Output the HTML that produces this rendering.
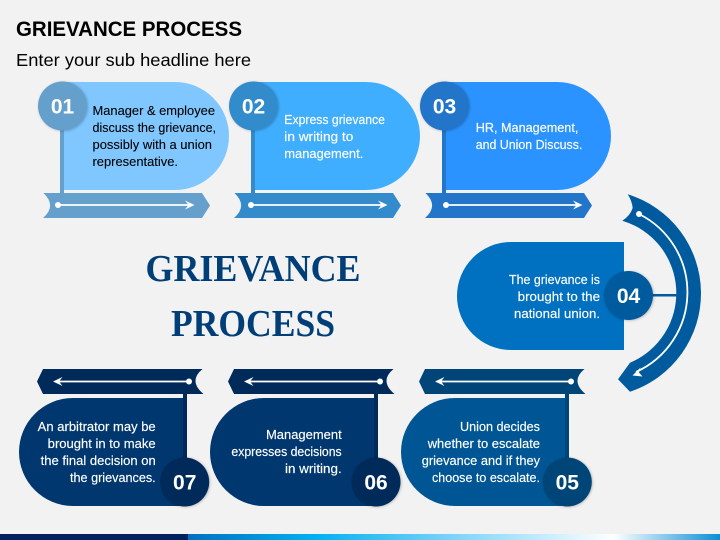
<!DOCTYPE html>
<html>
<head>
<meta charset="utf-8">
<style>
html,body{margin:0;padding:0;background:#f2f2f2}
svg{display:block}
text{font-family:"Liberation Sans",sans-serif}
.t{font-size:13px}
.w{fill:#fff;stroke:#fff;stroke-width:.15}
.k{fill:#000;stroke:#000;stroke-width:.1}
.e{text-anchor:end}
.n{font-size:21px;font-weight:bold;fill:#fff;text-anchor:middle}
.l{fill:none;stroke:#fff;stroke-width:1.8}
</style>
</head>
<body>
<svg width="720" height="540" viewBox="0 0 720 540" xmlns="http://www.w3.org/2000/svg">
<defs>
<linearGradient id="bar" x1="0" x2="1" y1="0" y2="0">
<stop offset="0" stop-color="#0070c0"/>
<stop offset="0.235" stop-color="#00b0f0"/>
<stop offset="0.5" stop-color="#7dd3fa"/>
<stop offset="0.8" stop-color="#ffffff"/>
<stop offset="1" stop-color="#0a8ed6"/>
</linearGradient>
<filter id="s" x="-30%" y="-30%" width="160%" height="160%">
<feDropShadow dx="0.8" dy="0.5" stdDeviation="1.2" flood-color="#000" flood-opacity="0.25"/>
</filter>
</defs>
<rect width="720" height="540" fill="#f2f2f2"/>
<rect x="0" y="534" width="188" height="6" fill="#002060"/>
<rect x="188" y="534" width="532" height="6" fill="url(#bar)"/>

<text x="16" y="36" font-size="21.5" font-weight="bold" fill="#000" textLength="226" lengthAdjust="spacingAndGlyphs">GRIEVANCE PROCESS</text>
<text x="16" y="66" font-size="17.5" fill="#000" textLength="235" lengthAdjust="spacingAndGlyphs">Enter your sub headline here</text>

<text x="145.5" y="281" style="font-family:'Liberation Serif',serif" font-size="38" font-weight="bold" fill="#003e78" textLength="215" lengthAdjust="spacingAndGlyphs">GRIEVANCE</text>
<text x="171" y="336" style="font-family:'Liberation Serif',serif" font-size="38" font-weight="bold" fill="#003e78" textLength="164" lengthAdjust="spacingAndGlyphs">PROCESS</text>

<!-- 01 -->
<path d="M62 82H175A54 54 0 0 1 175 190H62Z" fill="#80c6ff"/>
<rect x="60" y="120" width="4" height="75" fill="#659fcb"/>
<path d="M43.500 193H202L210 205.500L202 218H43Q57 206 43.500 193Z" fill="#659fcb"/>
<circle cx="62.500" cy="106" r="24.500" fill="#659fcb" filter="url(#s)"/>
<text x="62.500" y="113.500" class="n">01</text>
<path d="M58 205H190" class="l"/><path d="M194.500 205L185 200.500L188.500 205L185 209.500Z" fill="#fff"/>
<circle cx="58" cy="205" r="3" fill="#fff"/>
<text x="92.500" y="115" class="t k" textLength="122.500" lengthAdjust="spacingAndGlyphs">Manager &amp; employee</text>
<text x="92.500" y="132" class="t k" textLength="123.500" lengthAdjust="spacingAndGlyphs">discuss the grievance,</text>
<text x="92.500" y="149" class="t k" textLength="119.500" lengthAdjust="spacingAndGlyphs">possibly with a union</text>
<text x="92.500" y="166" class="t k" textLength="85.500" lengthAdjust="spacingAndGlyphs">representative.</text>

<!-- 02 -->
<path d="M253 82H366A54 54 0 0 1 366 190H253Z" fill="#40aeff"/>
<rect x="251" y="120" width="4" height="75" fill="#338bcb"/>
<path d="M234.500 193H393L401 205.500L393 218H234Q248 206 234.500 193Z" fill="#338bcb"/>
<circle cx="253.500" cy="106" r="24.500" fill="#338bcb" filter="url(#s)"/>
<text x="253.500" y="113.500" class="n">02</text>
<path d="M251 205H383" class="l"/><path d="M387.500 205L378 200.500L381.500 205L378 209.500Z" fill="#fff"/>
<circle cx="251" cy="205" r="3" fill="#fff"/>
<text x="284.300" y="124" class="t w" textLength="100.700" lengthAdjust="spacingAndGlyphs">Express grievance</text>
<text x="284.300" y="141" class="t w" textLength="69" lengthAdjust="spacingAndGlyphs">in writing to</text>
<text x="284.300" y="158" class="t w" textLength="79" lengthAdjust="spacingAndGlyphs">management.</text>

<!-- 03 -->
<path d="M444 82H557A54 54 0 0 1 557 190H444Z" fill="#2b93ff"/>
<rect x="442" y="120" width="4" height="75" fill="#2275c8"/>
<path d="M425.500 193H584L592 205.500L584 218H425Q439 206 425.500 193Z" fill="#2275c8"/>
<circle cx="444.500" cy="106" r="24.500" fill="#2275c8" filter="url(#s)"/>
<text x="444.500" y="113.500" class="n">03</text>
<path d="M446 205H578" class="l"/><path d="M582.500 205L573 200.500L576.500 205L573 209.500Z" fill="#fff"/>
<circle cx="446" cy="205" r="3" fill="#fff"/>
<text x="475.700" y="132" class="t w" textLength="102.700" lengthAdjust="spacingAndGlyphs">HR, Management,</text>
<text x="475.700" y="149" class="t w" textLength="106.700" lengthAdjust="spacingAndGlyphs">and Union Discuss.</text>

<!-- 04 -->
<path d="M624 242H511A54 54 0 0 0 511 350H624Z" fill="#0070c0"/>
<rect x="650" y="294" width="28" height="2.500" fill="#005a9e"/>
<path d="M627.700 194.300A103.600 103.600 0 0 1 630 391.700L618 379.300L630 362.700A75.500 75.500 0 0 0 622.300 220.700Q630 216 632.700 208Q632 201 627.700 194.300Z" fill="#005a9e"/>
<path d="M639 214A87.500 87.500 0 0 1 636 372" class="l"/><path d="M632.500 375.500L640.500 367.500L639 372.500L642.500 376.500Z" fill="#fff"/>
<circle cx="639" cy="214" r="3" fill="#fff"/>
<circle cx="628.500" cy="295.500" r="24.500" fill="#005a9e" filter="url(#s)"/>
<text x="628.500" y="303" class="n">04</text>
<text x="600" y="284" class="t w e" textLength="91" lengthAdjust="spacingAndGlyphs">The grievance is</text>
<text x="600" y="301" class="t w e" textLength="82.300" lengthAdjust="spacingAndGlyphs">brought to the</text>
<text x="600" y="318" class="t w e" textLength="86" lengthAdjust="spacingAndGlyphs">national union.</text>

<!-- 05 -->
<path d="M568 398H455A54 54 0 0 0 455 506H568Z" fill="#005694"/>
<rect x="565" y="392" width="4" height="70" fill="#004578"/>
<path d="M419 381.500L425 369H584.500Q570 381 585.500 394H425Z" fill="#004578"/>
<circle cx="567.300" cy="482" r="24.500" fill="#004578" filter="url(#s)"/>
<text x="567.300" y="489.500" class="n">05</text>
<path d="M571 381.500H440" class="l"/><path d="M435 381.500L444.500 377L441 381.500L444.500 386Z" fill="#fff"/>
<circle cx="571" cy="381.500" r="3" fill="#fff"/>
<text x="540" y="431" class="t w e" textLength="80" lengthAdjust="spacingAndGlyphs">Union decides</text>
<text x="540" y="448" class="t w e" textLength="112.300" lengthAdjust="spacingAndGlyphs">whether to escalate</text>
<text x="540" y="465" class="t w e" textLength="118.300" lengthAdjust="spacingAndGlyphs">grievance and if they</text>
<text x="540" y="482" class="t w e" textLength="108" lengthAdjust="spacingAndGlyphs">choose to escalate.</text>

<!-- 06 -->
<path d="M377 398H264A54 54 0 0 0 264 506H377Z" fill="#00376f"/>
<rect x="374" y="392" width="4" height="70" fill="#002a5a"/>
<path d="M228 381.500L234 369H393.500Q379 381 394.500 394H234Z" fill="#002a5a"/>
<circle cx="376" cy="482" r="24.500" fill="#002a5a" filter="url(#s)"/>
<text x="376" y="489.500" class="n">06</text>
<path d="M380 381.500H249" class="l"/><path d="M244 381.500L253.500 377L250 381.500L253.500 386Z" fill="#fff"/>
<circle cx="380" cy="381.500" r="3" fill="#fff"/>
<text x="341.700" y="439" class="t w e" textLength="75.700" lengthAdjust="spacingAndGlyphs">Management</text>
<text x="341.700" y="456" class="t w e" textLength="110.300" lengthAdjust="spacingAndGlyphs">expresses decisions</text>
<text x="341.700" y="473" class="t w e" textLength="56.700" lengthAdjust="spacingAndGlyphs">in writing.</text>

<!-- 07 -->
<path d="M186 398H73A54 54 0 0 0 73 506H186Z" fill="#00376f"/>
<rect x="183" y="392" width="4" height="70" fill="#002a5a"/>
<path d="M37 381.500L43 369H202.500Q188 381 203.500 394H43Z" fill="#002a5a"/>
<circle cx="184.700" cy="482" r="24.500" fill="#002a5a" filter="url(#s)"/>
<text x="184.700" y="489.500" class="n">07</text>
<path d="M189 381.500H58" class="l"/><path d="M53 381.500L62.500 377L59 381.500L62.500 386Z" fill="#fff"/>
<circle cx="189" cy="381.500" r="3" fill="#fff"/>
<text x="155.700" y="431" class="t w e" textLength="118" lengthAdjust="spacingAndGlyphs">An arbitrator may be</text>
<text x="155.700" y="448" class="t w e" textLength="108" lengthAdjust="spacingAndGlyphs">brought in to make</text>
<text x="155.700" y="465" class="t w e" textLength="115" lengthAdjust="spacingAndGlyphs">the final decision on</text>
<text x="155.700" y="482" class="t w e" textLength="85.700" lengthAdjust="spacingAndGlyphs">the grievances.</text>
</svg>
</body>
</html>
